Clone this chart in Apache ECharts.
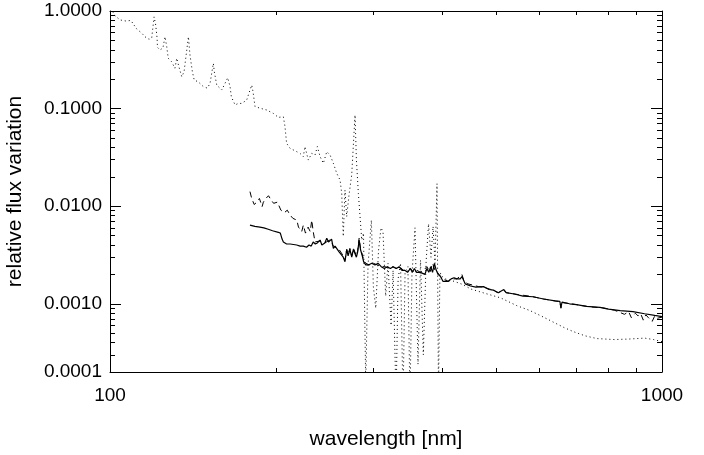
<!DOCTYPE html>
<html><head><meta charset="utf-8">
<script src="https://cdn.jsdelivr.net/npm/echarts@6/dist/echarts.min.js"></script>
<style>html,body{margin:0;padding:0;background:#fff}#c{width:704px;height:455px}</style>
</head><body><div id="c"></div>
<script>
// ---- data (wavelength in nm, relative flux variation) ----
const dottedWl = [100,101,102,104.3,106.8,109.1,111.8,114.1,115.7,117.7,119.0,120.2,121.0,121.7,121.9,123.2,124.7,125.8,126.7,127.5,129.3,131.1,132.1,132.9,133.3,134.9,136.2,138.7,139.6,141.0,142.1,144.5,147.6,150.1,151.8,153.9,154.5,156.1,159.4,163.4,165.0,165.9,168.5,170.8,173.2,176.8,180.6,181.6,183.1,186.9,192.2,197.6,201.8,206.1,207.5,208.9,211.9,217.9,220.9,224.0,225.5,228.7,232.0,235.2,237.5,240.2,243.5,247.0,250.4,253.9,257.5,261.1,262.9,264.6,266.5,268.4,271.0,274.1,277.9,279.5,281.8,285.8,287.9,290.6,293.4,297.5,300,303,306.5,309.7,312.3,315.8,318.9,323,325.7,329.8,332.6,336,339.5,342.4,346.5,349.5,352.4,356.9,361.4,365.2,369.5,373.7,377.6,381.5,384.8,388,391.2,393.6,396,400,404.5,420,435,450,480,510,545,577,610,635,665,690,725,762,820,870,930,965,1000];
const dottedFlux = [0.95,1.0,0.9,0.81,0.79,0.80,0.654,0.595,0.545,0.513,0.529,0.87,0.719,0.529,0.424,0.399,0.418,0.545,0.431,0.328,0.302,0.259,0.328,0.340,0.268,0.212,0.239,0.545,0.354,0.239,0.196,0.188,0.168,0.162,0.182,0.291,0.239,0.174,0.155,0.207,0.168,0.132,0.109,0.113,0.113,0.122,0.174,0.149,0.105,0.101,0.0968,0.0894,0.0813,0.0825,0.0654,0.0441,0.0392,0.0362,0.0348,0.0322,0.0408,0.0297,0.0348,0.0335,0.0408,0.0322,0.0275,0.0362,0.0335,0.0275,0.0217,0.0185,0.0135,0.0049,0.0146,0.0078,0.013,0.021,0.086,0.03,0.0135,0.0045,0.0053,0.00015,0.0025,0.0072,0.0015,0.0009,0.0035,0.006,0.0055,0.0012,0.0026,0.0006,0.0022,0.0001,0.0018,0.0026,0.0001,0.0021,0.0024,0.0001,0.002,0.006,0.00024,0.0028,0.0003,0.0026,0.0066,0.003,0.0062,0.0026,0.017,0.00012,0.0021,0.0019,0.0018,0.0017,0.00158,0.00142,0.00127,0.00115,0.00096,0.00085,0.00073,0.00065,0.00057,0.00052,0.00047,0.00044,0.00043,0.000435,0.000445,0.00043,0.00041];

const dashedWl = [179.3,180.6,182.5,184.5,186.5,188.6,189.6,191.6,193.7,195.8,197.9,201,204,207,209.5,212,214.5,218,219.5,222.5,224,226,228.5,230.5,232,233.4,235.2,240,245,250,253.9,260,264.6,266.5,268.4,270,272,274.1,276,278,279.5,281,282.7,284.3,286,288,290.6,295,300,305,310,315,320,325,330,335,340,345,350,355,360,365,370,375,380,384,388,392,397,400,410,420,425,430,434,438,445,455,465,475,490,505,517,522,550,580,610,640,653,656,659,700,740,780,820,855,870,880,895,905,915,925,935,945,960,970,980,1000];
const dashedFlux = [0.0141,0.012,0.0104,0.011,0.012,0.0099,0.011,0.012,0.0128,0.0116,0.0107,0.011,0.0091,0.0086,0.0091,0.0081,0.0075,0.0072,0.0061,0.0055,0.0064,0.0053,0.0061,0.0055,0.0072,0.0055,0.0043,0.0044,0.0042,0.0045,0.0039,0.0036,0.0031,0.0028,0.0036,0.0032,0.0037,0.0031,0.0037,0.0038,0.0031,0.0035,0.0047,0.0037,0.0033,0.0028,0.0026,0.0025,0.0026,0.0025,0.0024,0.0024,0.0023,0.0024,0.0023,0.0024,0.0022,0.0022,0.0023,0.0021,0.0022,0.0021,0.0022,0.0024,0.0021,0.0026,0.0022,0.0021,0.0019,0.0018,0.0017,0.0018,0.0018,0.0019,0.002,0.0017,0.0016,0.00155,0.0015,0.00148,0.0014,0.0013,0.00138,0.0013,0.00124,0.00119,0.00112,0.00107,0.00105,0.0009,0.00103,0.00098,0.00093,0.00091,0.00086,0.00078,0.00083,0.00072,0.0008,0.00075,0.00079,0.00068,0.00077,0.00072,0.00066,0.00075,0.00071,0.00073];

const solidWl = [179.3,183,186.9,190,193.5,197,201.8,203.5,205,206.1,208.9,212,217.9,221,224,227,229.4,231.5,233.4,235.5,237.5,240.2,242,243.5,245,247,248.8,250.4,252,253.9,255.7,257.5,260,264.6,266.5,268.4,270,272,274.1,276,277.9,279.5,281,282.7,284.3,286,288,290.6,294,298,302,306,310,314,318,322,326,330,334,338,342,346,350,353,356,359,362,365,368,372,375,378,381,384,387,390,393,397,401,405,410,415,420,425,431,434,440,450,460,475,486,495,505,517,522,540,560,584,610,640,653,656,659,680,700,730,772,800,840,886,930,970,1000];
const solidFlux = [0.0064,0.0062,0.0061,0.006,0.0058,0.0056,0.0054,0.0053,0.0046,0.0043,0.0041,0.0041,0.004,0.0039,0.0039,0.0038,0.004,0.0039,0.0043,0.0041,0.0042,0.0045,0.004,0.0039,0.0042,0.0047,0.0043,0.0042,0.0046,0.0037,0.0039,0.0039,0.0034,0.003,0.0027,0.0036,0.0031,0.0036,0.003,0.0036,0.0036,0.003,0.0034,0.0045,0.0036,0.0032,0.0027,0.0025,0.0025,0.0026,0.0025,0.0026,0.0024,0.0023,0.0024,0.0023,0.0024,0.0023,0.0024,0.0022,0.0022,0.0021,0.0023,0.0021,0.0023,0.0021,0.0021,0.0021,0.0022,0.002,0.0023,0.0021,0.0024,0.0021,0.0026,0.0022,0.002,0.0019,0.0017,0.0017,0.0017,0.0018,0.00185,0.0018,0.0018,0.0019,0.0016,0.00152,0.00148,0.0015,0.0014,0.00138,0.0013,0.0014,0.0013,0.00126,0.0012,0.00118,0.00112,0.00107,0.00106,0.00092,0.00104,0.001,0.00098,0.00094,0.00092,0.00088,0.00085,0.00083,0.00079,0.00076,0.00074];

// ---- ticks ----
const xTickLabels = ['100', '1000'];
const xMinorTicks = [200, 300, 400, 500, 600, 700, 800, 900];
const yTickLabels = ['0.0001', '0.0010', '0.0100', '0.1000', '1.0000'];
const yMinorTicks = [0.0003,0.0004,0.0005,0.0006,0.0007,0.0008,0.0009,
  0.002,0.003,0.004,0.005,0.006,0.007,0.008,0.009,
  0.02,0.03,0.04,0.05,0.06,0.07,0.08,0.09,
  0.2,0.3,0.4,0.5,0.6,0.7,0.8,0.9];

const pair = (xs, ys) => xs.map((x, i) => [x, ys[i]]);

const FONT = 'Liberation Sans, Arial, Helvetica, sans-serif';
const axisLine = { show: true, onZero: false, lineStyle: { color: '#000', width: 1 } };

function xAx(pos, withLabels) {
  return {
    type: 'log', logBase: 10, min: 100, max: 1000, position: pos,
    axisLine: axisLine,
    axisTick: { show: true, inside: true, length: 4, customValues: xMinorTicks, lineStyle: { color: '#000' } },
    axisLabel: withLabels ? { show: true, margin: 14, color: '#000', fontFamily: FONT, fontSize: 19,
      formatter: (v, i) => xTickLabels[i] } : { show: false },
    splitLine: { show: false },
    name: withLabels ? 'wavelength [nm]' : '',
    nameLocation: 'middle', nameGap: 57,
    nameTextStyle: { color: '#000', fontFamily: FONT, fontSize: 21 }
  };
}
function yMajor(pos, withLabels) {
  return {
    type: 'log', logBase: 10, min: 0.0002, max: 1, position: pos,
    axisLine: axisLine,
    axisTick: { show: true, inside: true, length: 11, lineStyle: { color: '#000' } },
    axisLabel: withLabels ? { show: true, margin: 8, color: '#000', fontFamily: FONT, fontSize: 19,
      formatter: (v, i) => yTickLabels[i] } : { show: false },
    splitLine: { show: false },
    name: withLabels ? 'relative flux variation' : '',
    nameLocation: 'middle', nameGap: 84, nameRotate: 90,
    nameTextStyle: { color: '#000', fontFamily: FONT, fontSize: 21 }
  };
}
function yMinor(pos) {
  return {
    type: 'log', logBase: 10, min: 0.0002, max: 1, position: pos,
    axisLine: { show: false },
    axisTick: { show: true, inside: true, length: 5, customValues: yMinorTicks, lineStyle: { color: '#000' } },
    axisLabel: { show: false },
    splitLine: { show: false }
  };
}

const chart = echarts.init(document.getElementById('c'), null, { renderer: 'canvas' });
chart.setOption({
  animation: false,
  backgroundColor: '#fff',
  grid: { left: 110, right: 42, top: 11, bottom: 83, containLabel: false, outerBoundsMode: 'none' },
  xAxis: [xAx('bottom', true), xAx('top', false)],
  yAxis: [yMajor('left', true), yMinor('left'), yMajor('right', false), yMinor('right')],
  series: [
    { type: 'line', name: 'dotted', xAxisIndex: 0, yAxisIndex: 0, showSymbol: false, clip: true,
      data: pair(dottedWl, dottedFlux), lineStyle: { color: '#000', width: 1, type: [1, 3] } },
    { type: 'line', name: 'dashed', xAxisIndex: 0, yAxisIndex: 0, showSymbol: false, clip: true,
      data: pair(dashedWl, dashedFlux), lineStyle: { color: '#000', width: 1, type: [6, 4] } },
    { type: 'line', name: 'solid', xAxisIndex: 0, yAxisIndex: 0, showSymbol: false, clip: true,
      data: pair(solidWl, solidFlux), lineStyle: { color: '#000', width: 1.2, type: 'solid' } }
  ]
});
</script>
</body></html>
